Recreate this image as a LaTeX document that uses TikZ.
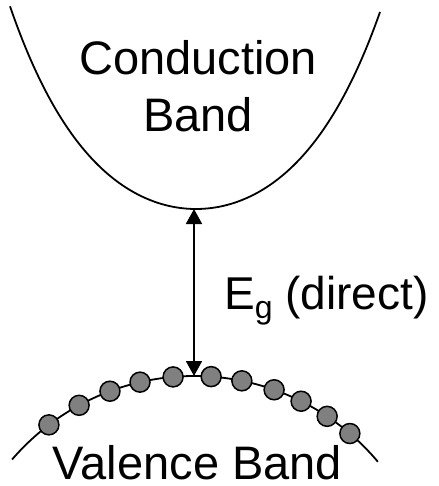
\documentclass[tikz,border=0pt]{standalone}
\usepackage{fontspec}
\setmainfont{Liberation Sans}
\usetikzlibrary{arrows.meta,calc}
\tikzset{
  band/.style={line width=1.8pt, black},
  electron/.style={circle, draw=black, line width=1.5pt, fill=black!50, minimum size=20pt, inner sep=0pt},
  gaparrow/.style={line width=1.8pt, {Triangle[length=15pt,width=16pt]}-{Triangle[length=15pt,width=16pt]}},
  bigtext/.style={font=\fontsize{47}{57}\selectfont, inner sep=0pt, anchor=base},
}
\begin{document}
\begin{tikzpicture}[x=1pt,y=-1pt]
\useasboundingbox (0,0) rectangle (438,486);
% conduction band
\draw[band] plot[domain=-186:184, samples=150] ({196+\x},{209-67.3*(cosh(\x/90)-1)});
\coordinate (cbmin) at (194,209);
% valence band
\coordinate (vc) at (194,616);
\coordinate (vbtop) at (194,376);
\draw[band] ($(vc)+(-139.3:240)$) arc[start angle=-139.3, end angle=-40, radius=240];
\foreach \a [count=\i] in {127.2,118.6,110.5,103.0,95.0,85.9,78.5,70.5,63.5,56.3,49.5}
  \node[electron] (e\i) at ($(vc)+(-\a:240)$) {};
% gap arrow
\draw[gaparrow] (vbtop) -- (cbmin);
% labels
\node[bigtext] (cb1) at (198,75) {Conduction};
\node[bigtext] (cb2) at (198,132) {Band};
\node[bigtext, text depth=0pt] (vb) at (197.5,479.5) {Valence Band};
\node[font=\fontsize{46}{55}\selectfont, inner sep=0pt, anchor=base west] (eg) at (224,309)
  {E\raisebox{-9.3pt}{\fontsize{32}{32}\selectfont g} (direct)};
\end{tikzpicture}
\end{document}
